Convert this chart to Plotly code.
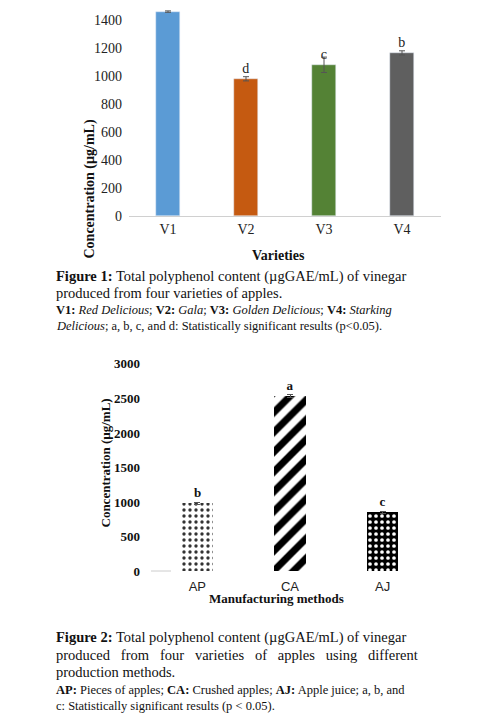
import plotly.graph_objects as go

varieties = ["V1", "V2", "V3", "V4"]
var_values = [1460, 980, 1080, 1165]
var_err = [5, 15, 55, 15]
var_letters = ["", "d", "c", "b"]
var_colors = ["#5b9bd5", "#c55a11", "#548235", "#5f5f5f"]

methods = ["AP", "CA", "AJ"]
meth_values = [980, 2540, 850]
meth_err = [15, 20, 12]
meth_letters = ["b", "a", "c"]

W, H = 499, 724
def py(p): return 1 - p / H
def px(p): return p / W

serif = "Liberation Serif"
fig = go.Figure()
fig.add_trace(go.Bar(x=varieties, y=var_values, marker_color=var_colors, width=0.32,
                     error_y=dict(type="data", array=var_err, color="#555", thickness=1, width=3),
                     text=var_letters, textposition="outside", textfont=dict(family=serif, size=14, color="#222"),
                     cliponaxis=False, xaxis="x", yaxis="y"))
patterns = dict(shape=[".", "/", "."], bgcolor=["white", "white", "black"],
                fgcolor=["#333", "black", "white"], fgopacity=1, size=[6, 14, 6], solidity=[0.25, 0.5, 0.3])
fig.add_trace(go.Bar(x=methods, y=meth_values, width=0.34,
                     marker=dict(color="white", pattern=patterns, line=dict(width=0)),
                     error_y=dict(type="data", array=meth_err, color="#555", thickness=1, width=3),
                     text=meth_letters, textposition="outside",
                     textfont=dict(family=serif, size=13, color="#111", weight="bold"),
                     cliponaxis=False, xaxis="x2", yaxis="y2"))

fig.update_layout(
    width=W, height=H, margin=dict(l=0, r=0, t=0, b=0), showlegend=False,
    paper_bgcolor="white", plot_bgcolor="white", bargap=0,
    xaxis=dict(domain=[px(121), px(433)], anchor="y", showline=True, linecolor="#d0d0d0",
               automargin=False, tickfont=dict(family=serif, size=14, color="#222"), ticks=""),
    yaxis=dict(domain=[py(208), 1], range=[0, 208 / 0.14], anchor="x", dtick=200,
               automargin=False, ticklabelstandoff=6,
               showgrid=False, zeroline=False, tickfont=dict(family=serif, size=14, color="#222")),
    xaxis2=dict(domain=[px(143), px(421)], anchor="y2", showline=False, automargin=False,
                ticklabelstandoff=6,
                tickfont=dict(family="Liberation Sans", size=13, color="#222"), ticks=""),
    yaxis2=dict(domain=[py(563), py(349)], range=[0, 3100], anchor="x2", dtick=500,
                showgrid=False, zeroline=False, automargin=False, ticklabelstandoff=10,
                tickfont=dict(family=serif, size=13, color="#111", weight="bold")),
)
fig.add_shape(type="line", xref="paper", yref="paper", x0=px(143), x1=px(163), y0=py(563), y1=py(563),
              line=dict(color="#ccc", width=1))

anns = [
    dict(text="<b>Concentration (µg/mL)</b>", x=px(71), y=py(110), textangle=-90, size=14),
    dict(text="<b>Varieties</b>", x=px(270), y=py(238), size=14),
    dict(text="<b>Concentration (µg/mL)</b>", x=px(87), y=py(455), textangle=-90, size=13),
    dict(text="<b>Manufacturing methods</b>", x=px(268), y=py(600), size=13),
]
for a in anns:
    fig.add_annotation(text=a["text"], x=a["x"], y=a["y"], xref="paper", yref="paper",
                       showarrow=False, textangle=a.get("textangle", 0),
                       font=dict(family=serif, size=a["size"], color="#111"))

caps = [
    ("<b>Figure 1:</b> Total polyphenol content (µgGAE/mL) of vinegar", 268, 14.5),
    ("produced from four varieties of apples.", 285, 14.5),
    ("<b>V1:</b> <i>Red Delicious</i>; <b>V2:</b> <i>Gala</i>; <b>V3:</b> <i>Golden Delicious</i>; <b>V4:</b> <i>Starking</i>", 302, 12.5),
    ("<i>Delicious</i>; a, b, c, and d: Statistically significant results (p<0.05).", 318, 12.5),
    ("<b>Figure 2:</b> Total polyphenol content (µgGAE/mL) of vinegar", 640, 14.5),
    ("produced   from   four   varieties   of   apples   using   different", 657, 14.5),
    ("production methods.", 674, 14.5),
    ("<b>AP:</b> Pieces of apples; <b>CA:</b> Crushed apples; <b>AJ:</b> Apple juice; a, b, and", 691, 12.5),
    ("c: Statistically significant results (p < 0.05).", 707, 12.5),
]
for t, y, s in caps:
    fig.add_annotation(text=t, x=px(46), y=py(y), xref="paper", yref="paper", xanchor="left",
                       showarrow=False, font=dict(family=serif, size=s, color="#111"))

fig.write_html("out.html")
